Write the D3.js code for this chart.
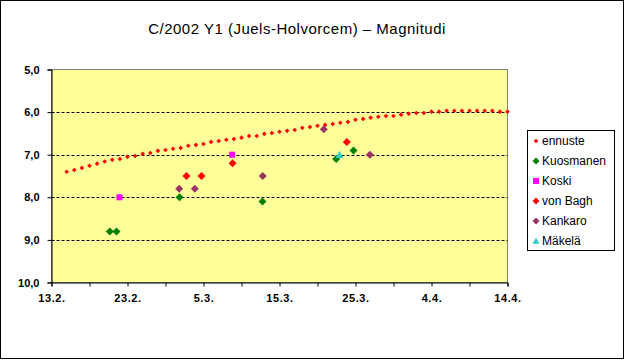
<!DOCTYPE html>
<html><head><meta charset="utf-8">
<script src="https://cdn.jsdelivr.net/npm/d3@7"></script>
<style>html,body{margin:0;padding:0;background:#fff}svg{display:block}</style>
</head><body>
<script>
// x values = days after 13.2.2002
const xTickValues = [0,10,20,30,40,50,60];
const xTickLabels = ["13.2.","23.2.","5.3.","15.3.","25.3.","4.4.","14.4."];
const yTickValues = [5,6,7,8,9,10];
const yTickLabels = ["5,0","6,0","7,0","8,0","9,0","10,0"];

const ennusteDays = [2,3,4,5,6,7,8,9,10,11,12,13,14,15,16,17,18,19,20,21,22,23,24,25,26,27,28,29,30,31,32,33,34,35,36,37,38,39,40,41,42,43,44,45,46,47,48,49,50,51,52,53,54,55,56,57,58,59,60];
const ennusteMag = [7.40,7.36,7.31,7.26,7.21,7.16,7.12,7.10,7.05,7.03,6.98,6.96,6.91,6.89,6.86,6.84,6.79,6.77,6.75,6.70,6.68,6.65,6.63,6.60,6.56,6.56,6.51,6.49,6.46,6.44,6.42,6.37,6.35,6.32,6.30,6.28,6.25,6.23,6.18,6.16,6.13,6.11,6.09,6.09,6.06,6.04,6.02,6.02,5.99,5.99,5.97,5.97,5.97,5.97,5.97,5.97,5.97,5.99,5.99];

const kuosmanenDays = [7.67,8.55,16.84,27.76,37.46,39.74];
const kuosmanenMag  = [8.8,8.8,8.0,8.1,7.1,6.9];
const koskiDays = [8.95,23.77];
const koskiMag  = [8.0,7.0];
const vonBaghDays = [17.76,19.74,23.82,38.86];
const vonBaghMag  = [7.5,7.5,7.2,6.7];
const kankaroDays = [16.8,18.86,27.8,35.83,41.89];
const kankaroMag  = [7.8,7.8,7.5,6.4,7.0];
const makelaDays = [37.9];
const makelaMag  = [7.0];

const seriesNames = ["ennuste","Kuosmanen","Koski","von Bagh","Kankaro","Mäkelä"];

const W = 625, H = 360;
const svg = d3.select("body").append("svg").attr("width", W).attr("height", H);

const L = 51.5, R = 507.5, T = 69.5, B = 282.5;
const x = d3.scaleLinear().domain([0,60]).range([L,R]);
const y = d3.scaleLinear().domain([5,10]).range([T,B]);
const font = "Liberation Sans, Arial, sans-serif";

// outer border
svg.append("rect").attr("x",0.5).attr("y",0.5).attr("width",623).attr("height",358)
  .attr("fill","#fff").attr("stroke","#000");

// title
svg.append("text").attr("x",297).attr("y",34).attr("text-anchor","middle")
  .attr("font-family",font).attr("font-size",15).attr("letter-spacing",0.5)
  .text("C/2002 Y1 (Juels-Holvorcem) – Magnitudi");

// plot area
svg.append("rect").attr("x",L).attr("y",T).attr("width",R-L).attr("height",B-T)
  .attr("fill","#FFFF99").attr("stroke","#808080");

// gridlines
svg.append("g").selectAll("line").data(yTickValues.slice(1,-1)).join("line")
  .attr("x1",L).attr("x2",R).attr("y1",d=>Math.round(y(d))+0.5).attr("y2",d=>Math.round(y(d))+0.5)
  .attr("stroke","#000").attr("stroke-dasharray","3,2");

// y axis
const yAxis = d3.axisLeft(y).tickValues(yTickValues).tickSize(4).tickPadding(8)
  .tickFormat((d,i)=>yTickLabels[i]);
const gy = svg.append("g").attr("transform",`translate(${L},0)`).call(yAxis);
gy.selectAll("text").attr("font-family",font).attr("font-size",11).attr("font-weight","bold").attr("fill","#000");
gy.select(".domain").attr("stroke","#000");

// x axis minor ticks
const gxm = svg.append("g").attr("transform",`translate(0,${B})`)
  .call(d3.axisBottom(x).tickValues([5,15,25,35,45,55]).tickSize(4).tickFormat(""));
gxm.select(".domain").remove();
const xAxis = d3.axisBottom(x).tickValues(xTickValues).tickSize(4).tickPadding(8)
  .tickFormat((d,i)=>xTickLabels[i]);
const gx = svg.append("g").attr("transform",`translate(0,${B})`).call(xAxis);
gx.selectAll("text").attr("font-family",font).attr("font-size",11).attr("font-weight","bold")
  .attr("letter-spacing",0.6).attr("fill","#000");
gx.select(".domain").attr("stroke","#000");

// marker paths
function diamond(r){ return `M0,${-r}L${r},0L0,${r}L${-r},0Z`; }
function square(r){ return `M${-r},${-r}H${r}V${r}H${-r}Z`; }
function triangle(r){ return `M0,${-r}L${r},${r*0.8}L${-r},${r*0.8}Z`; }

const series = [
  {name:seriesNames[0], days:ennusteDays, mag:ennusteMag, color:"#FF0000", shape:diamond(2.3), lshape:diamond(2.3)},
  {name:seriesNames[1], days:kuosmanenDays, mag:kuosmanenMag, color:"#008000", shape:diamond(4), lshape:diamond(3.5)},
  {name:seriesNames[2], days:koskiDays, mag:koskiMag, color:"#FF00FF", shape:square(3), lshape:square(3)},
  {name:seriesNames[3], days:vonBaghDays, mag:vonBaghMag, color:"#FF0000", shape:diamond(4), lshape:diamond(3.5)},
  {name:seriesNames[4], days:kankaroDays, mag:kankaroMag, color:"#993366", shape:diamond(4), lshape:diamond(3.5)},
  {name:seriesNames[5], days:makelaDays, mag:makelaMag, color:"#33CCCC", shape:triangle(4), lshape:triangle(3.5)}
];

series.forEach(s=>{
  svg.append("g").selectAll("path").data(s.days.map((d,i)=>[d,s.mag[i]])).join("path")
    .attr("d",s.shape).attr("fill",s.color)
    .attr("transform",d=>`translate(${x(d[0])},${y(d[1])})`);
});

// legend
const lg = svg.append("g");
lg.append("rect").attr("x",527.5).attr("y",130.5).attr("width",87).attr("height",120)
  .attr("fill","#fff").attr("stroke","#000");
series.forEach((s,i)=>{
  const cy = 141 + i*20;
  lg.append("path").attr("d",s.lshape).attr("fill",s.color).attr("transform",`translate(536,${cy})`);
  lg.append("text").attr("x",542).attr("y",cy+4).attr("font-family",font).attr("font-size",12)
    .text(s.name);
});
</script>
</body></html>
